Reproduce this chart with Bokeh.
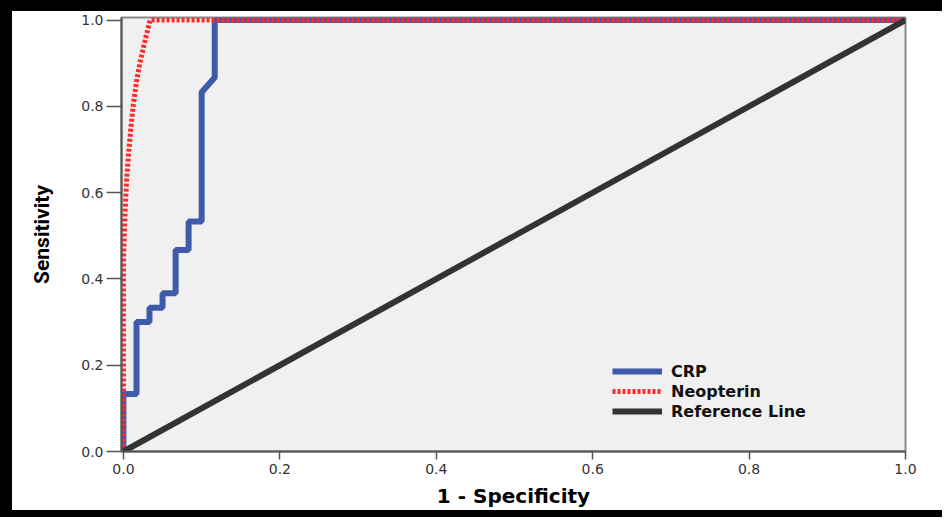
from bokeh.plotting import figure
from bokeh.models import Range1d, Legend, LegendItem
from bokeh.embed import file_html
from bokeh.resources import INLINE

# ROC data
crp_fpr = [0.0, 0.0, 0.0167, 0.0167, 0.0333, 0.0333, 0.05, 0.05, 0.0667, 0.0667,
           0.0833, 0.0833, 0.1, 0.1, 0.1167, 0.1167, 1.0]
crp_tpr = [0.0, 0.133, 0.133, 0.3, 0.3, 0.333, 0.333, 0.367, 0.367, 0.467,
           0.467, 0.533, 0.533, 0.833, 0.867, 1.0, 1.0]

neo_fpr = [0.0, 0.0, 0.0, 0.002, 0.004, 0.007, 0.010, 0.013, 0.017, 0.021,
           0.026, 0.030, 0.034, 1.0]
neo_tpr = [0.0, 0.2, 0.45, 0.55, 0.63, 0.70, 0.76, 0.81, 0.86, 0.90,
           0.94, 0.97, 1.0, 1.0]

ref_x = [0.0, 1.0]
ref_y = [0.0, 1.0]

tick_values = [0.0, 0.2, 0.4, 0.6, 0.8, 1.0]
tick_labels = ["0.0", "0.2", "0.4", "0.6", "0.8", "1.0"]

p = figure(
    output_backend="svg", toolbar_location=None,
    frame_width=784, frame_height=434,
    x_range=Range1d(-0.0025, 1.0), y_range=Range1d(0.0, 1.006),
    min_border_left=109, min_border_right=37, min_border_top=6, min_border_bottom=58,
    background_fill_color="#F0F0F0", border_fill_color="white",
    x_axis_label="1 - Specificity", y_axis_label="Sensitivity",
)
p.styles = {"border-top": "11px solid black", "border-left": "12px solid black",
            "border-bottom": "7px solid black"}

p.xgrid.visible = False
p.ygrid.visible = False
p.outline_line_color = "#8a8a8a"
p.outline_line_width = 2

for ax in (p.xaxis[0], p.yaxis[0]):
    ax.ticker = tick_values
    ax.major_label_overrides = {v: s for v, s in zip(tick_values, tick_labels)}
    ax.minor_tick_line_color = None
    ax.axis_line_color = "#555555"
    ax.axis_line_width = 2
    ax.major_tick_line_color = "#555555"
    ax.major_tick_line_width = 1.5
    ax.major_tick_in = 0
    ax.major_label_text_font = "DejaVu Sans"
    ax.major_label_text_font_size = "14px"
    ax.major_label_text_color = "#333333"

p.xaxis.major_tick_out = 8
p.xaxis.major_label_standoff = 4
p.yaxis.major_tick_out = 15
p.yaxis.major_label_standoff = 3

p.xaxis.axis_label_text_font = "DejaVu Sans"
p.xaxis.axis_label_text_font_style = "bold"
p.xaxis.axis_label_text_font_size = "20px"
p.xaxis.axis_label_text_color = "black"
p.xaxis.axis_label_standoff = 7

p.yaxis.axis_label_text_font = "Roboto"
p.yaxis.axis_label_text_font_style = "bold"
p.yaxis.axis_label_text_font_size = "21px"
p.yaxis.axis_label_text_color = "black"
p.yaxis.axis_label_standoff = 24

crp = p.line(crp_fpr, crp_tpr, line_color="#3F5AA8", line_width=6)
neo = p.line(neo_fpr, neo_tpr, line_color="#FF2A2A", line_width=5, line_dash="3 2")
ref = p.line(ref_x, ref_y, line_color="#333333", line_width=6)

legend = Legend(
    items=[LegendItem(label="CRP", renderers=[crp]),
           LegendItem(label="Neopterin", renderers=[neo]),
           LegendItem(label="Reference Line", renderers=[ref])],
    location=(491, 30),
    padding=0, spacing=0, margin=0,
    glyph_width=50, glyph_height=20, label_height=20, label_standoff=9,
    border_line_color=None, background_fill_alpha=0,
    label_text_font="DejaVu Sans", label_text_font_style="bold",
    label_text_font_size="16px", label_text_color="#111111",
)
p.add_layout(legend, "center")

open("out.html", "w").write(file_html(p, INLINE))
